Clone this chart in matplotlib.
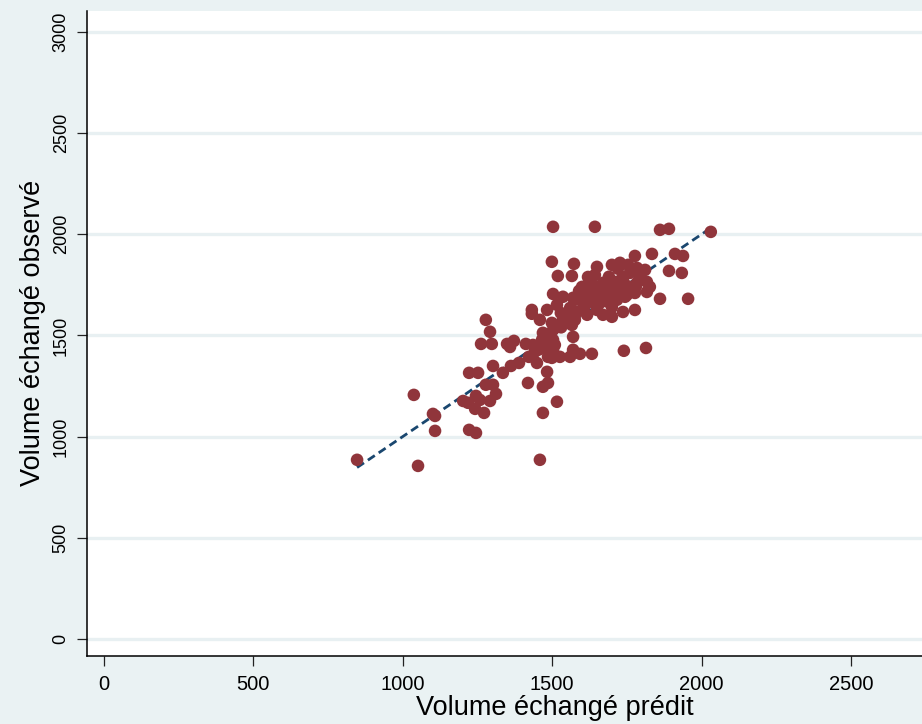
import numpy as np
import matplotlib
matplotlib.use("Agg")
import matplotlib.pyplot as plt

plt.rcParams['font.family'] = ['Liberation Sans', 'DejaVu Sans']

predit = [847, 1051, 1037, 1108, 1101, 1108, 1222, 1252, 1222, 1245,
          1202, 1218, 1245, 1242, 1272, 1292, 1258, 1278, 1302, 1312,
          1302, 1335, 1278, 1292, 1262, 1298, 1349, 1359, 1372, 1362,
          1389, 1419, 1412, 1436, 1422, 1449, 1432, 1432, 1459, 1459,
          1483, 1469, 1486, 1516, 1469, 1442, 1469, 1499, 1526, 1560,
          1570, 1570, 1593, 1633, 1740, 1814, 1466, 1483, 1503, 1509,
          1469, 1503, 1499, 1533, 1553, 1576, 1483, 1516, 1560, 1503,
          1536, 1570, 1503, 1643, 1861, 1891, 2031, 1499, 1573, 1519,
          1566, 1777, 1834, 1911, 1938, 1891, 1934, 1861, 1955, 1650,
          1700, 1727, 1754, 1784, 1811, 1794, 1817, 1827, 1817, 1620,
          1643, 1670, 1687, 1717, 1737, 1760, 1600, 1627, 1650, 1617,
          1650, 1683, 1704, 1727, 1760, 1784, 1576, 1603, 1633, 1660,
          1687, 1717, 1744, 1777, 1583, 1617, 1650, 1670, 1700, 1737,
          1777, 1566, 1486, 1529, 1503, 1593,
          1690, 1660, 1740, 1610, 1560, 1700, 1590, 1630, 1780, 1750,
          1530, 1480, 1455, 1720, 1675]
observe = [885, 855, 1206, 1102, 1112, 1028, 1315, 1315, 1033, 1018,
           1176, 1167, 1201, 1137, 1117, 1176, 1181, 1256, 1256, 1211,
           1349, 1315, 1577, 1518, 1458, 1458, 1458, 1443, 1473, 1349,
           1364, 1265, 1458, 1453, 1394, 1364, 1626, 1607, 1577, 885,
           1320, 1246, 1265, 1172, 1117, 1419, 1438, 1389, 1394, 1394,
           1429, 1493, 1409, 1409, 1424, 1438, 1478, 1463, 1478, 1453,
           1513, 1527, 1562, 1567, 1562, 1577, 1626, 1651, 1636, 1705,
           1691, 1686, 2037, 2037, 2022, 2027, 2012, 1864, 1854, 1794,
           1794, 1893, 1903, 1903, 1893, 1819, 1809, 1681, 1681, 1839,
           1849, 1859, 1849, 1834, 1824, 1789, 1765, 1740, 1715, 1789,
           1799, 1760, 1765, 1765, 1789, 1809, 1740, 1735, 1740, 1700,
           1700, 1710, 1715, 1725, 1740, 1760, 1676, 1661, 1666, 1661,
           1666, 1676, 1691, 1710, 1616, 1602, 1626, 1602, 1592, 1616,
           1626, 1552, 1394, 1611, 1429, 1691,
           1790, 1730, 1760, 1650, 1610, 1640, 1720, 1760, 1740, 1700,
           1540, 1500, 1430, 1830, 1700]

xticks = [0, 500, 1000, 1500, 2000, 2500]
yticks = [0, 500, 1000, 1500, 2000, 2500, 3000]

bg = '#EAF2F3'
fig = plt.figure(figsize=(9.22, 7.24), dpi=100, facecolor=bg)
W, H = 922, 724
ax = fig.add_axes([87 / W, 1 - 656 / H, (1023 - 87) / W, (656 - 11) / H])
ax.set_facecolor('white')

# fitted line (predicted vs predicted) over the range of predictions
xs = np.sort(np.array(predit, dtype=float))
ax.plot(xs, xs, color='#1A476F', lw=2.0, ls=(0, (3.0, 1.7)), zorder=2)
ax.scatter(predit, observe, s=82, color='#90353B', edgecolors='none', zorder=3)

ax.set_xlim(-57, 3076)
ax.set_ylim(-85, 3104)
ax.set_xticks(xticks)
ax.set_yticks(yticks)
ax.yaxis.grid(True, color='#E8F0F2', lw=2.4, zorder=0)
ax.set_axisbelow(True)

for s in ['top', 'right']:
    ax.spines[s].set_visible(False)
for s in ['left', 'bottom']:
    ax.spines[s].set_linewidth(1.1)
    ax.spines[s].set_color('black')

ax.tick_params(axis='x', direction='out', length=7.5, width=0.9, color='#222222',
               labelsize=14.5, pad=6)
ax.tick_params(axis='y', direction='out', length=7.5, width=0.9, color='#222222',
               labelsize=13, pad=5, labelrotation=90)
for lab in ax.get_yticklabels():
    lab.set_va('center')

fig.text(555 / W, 1 - 708 / H, 'Volume échangé prédit', fontsize=19.5,
         ha='center', va='center')
fig.text(33 / W, 1 - 333 / H, 'Volume échangé observé', fontsize=19.5,
         ha='center', va='center', rotation=90)

fig.savefig('out.png', dpi=100, facecolor=bg)
